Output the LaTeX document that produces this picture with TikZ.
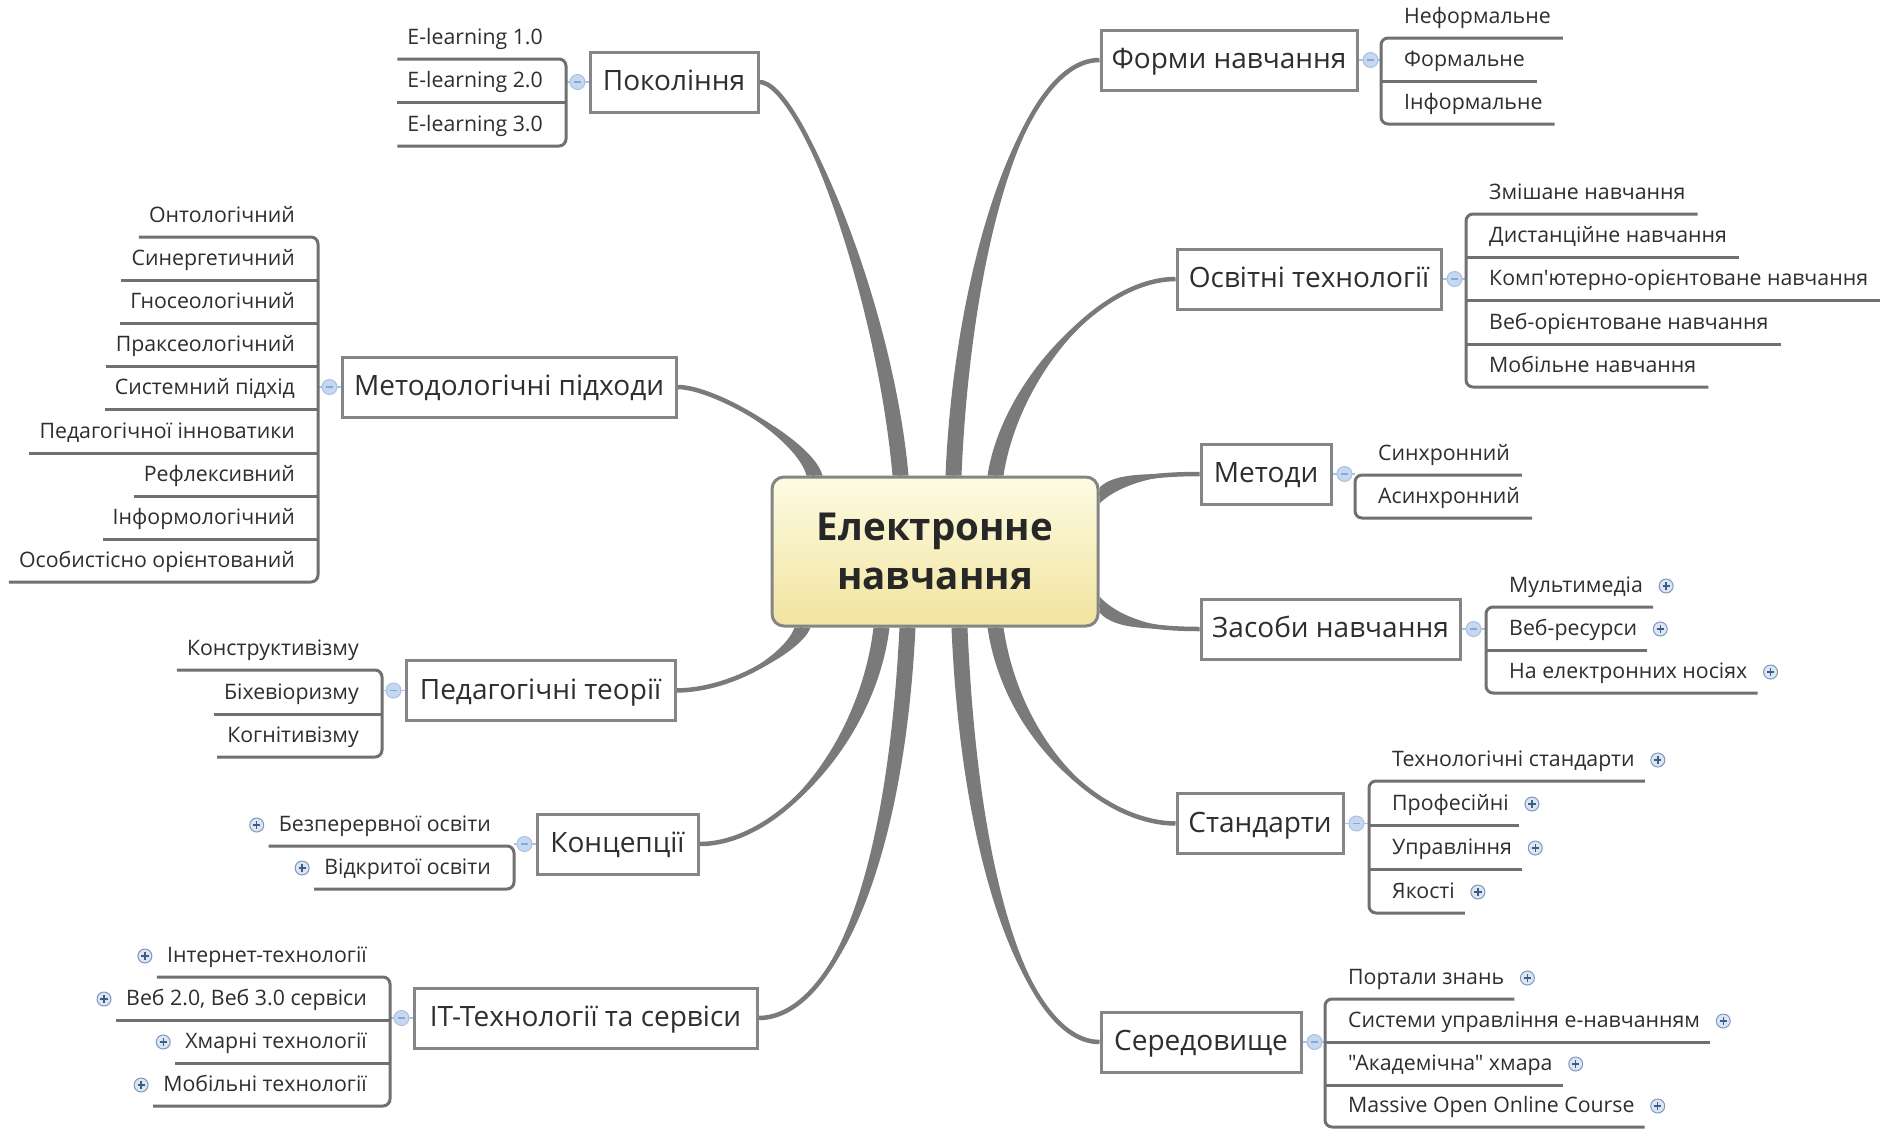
\documentclass[tikz,border=0pt]{standalone}
\usepackage{fontspec}
\usetikzlibrary{calc,backgrounds}
\newfontfamily\leaffont{Open Sans}
\definecolor{txt}{HTML}{2E2E2E}
\definecolor{conn}{HTML}{7A7A7A}
\definecolor{boxline}{HTML}{858585}
\definecolor{ulc}{HTML}{707070}
\definecolor{plusf}{HTML}{DCE6F2}
\definecolor{plusb}{HTML}{7D98BC}
\definecolor{plusm}{HTML}{3E5C88}
\definecolor{minf}{HTML}{C6D8F0}
\definecolor{minb}{HTML}{A9C1E2}
\definecolor{minm}{HTML}{8AA6D2}
\definecolor{ctop}{HTML}{FDFBE3}
\definecolor{cbot}{HTML}{F1E49E}
\tikzset{
 leaf/.style={font=\leaffont\fontsize{21.3pt}{25pt}\selectfont, text=txt, inner sep=0pt},
 branch/.style={draw=boxline, line width=3pt, fill=white, font=\leaffont\fontsize{28pt}{32pt}\selectfont, text=txt, minimum height=60pt, inner sep=0pt, text height=19pt, text depth=2pt},
 centre/.style={draw=boxline, line width=3pt, rounded corners=12pt, top color=ctop, bottom color=cbot, font=\leaffont\bfseries\fontsize{38.5pt}{49pt}\selectfont, text=txt!85!black, align=center, minimum width=326pt, minimum height=149pt, inner sep=0pt},
 ul/.style={draw=ulc, line width=3pt, rounded corners=7pt},
 minline/.style={draw=minb, line width=1.5pt},
}
\newcommand\plusicon[1]{\path #1 coordinate (pp);
 \fill[plusf, draw=plusb, line width=1pt] (pp) circle (7pt);
 \draw[plusm, line width=1.4pt] ($(pp)+(-3.6,0)$) -- ($(pp)+(3.6,0)$) ($(pp)+(0,-3.6)$) -- ($(pp)+(0,3.6)$);}
\newcommand\minusicon[1]{\path #1 coordinate (mm);
 \fill[minf, draw=minb, line width=1pt] (mm) circle (7.5pt);
 \draw[minm, line width=1.3pt] ($(mm)+(-3.5,0)$) -- ($(mm)+(3.5,0)$);}
\newcommand\lleaf[4]{\node[leaf, anchor=mid east] (#1) at (#2,#3+5) {#4};
 \coordinate (#1u) at ($(#1.mid west)+(-10,17)$);}
\newcommand\lleafp[4]{\lleaf{#1}{#2}{#3}{#4}\plusicon{($(#1.mid west)+(-22,-4)$)}}
\newcommand\rleaf[4]{\node[leaf, anchor=mid west] (#1) at (#2,#3+5) {#4};
 \coordinate (#1u) at ($(#1.mid east)+(12,17)$);}
\newcommand\rleafp[4]{\node[leaf, anchor=mid west] (#1) at (#2,#3+5) {#4};
 \coordinate (#1u) at ($(#1.mid east)+(10,17)$);\plusicon{($(#1.mid east)+(23,-4)$)}}
\newcommand\taper[5]{%
 \fill[conn] ($(#1)+#5$) .. controls ($#2+#5$) and #3 .. (#4) .. controls #3 and ($#2-#5$) .. ($(#1)-#5$) -- cycle;
 \draw[conn, line width=4.5pt] (#1) .. controls #2 and #3 .. (#4);}
\begin{document}
\begin{tikzpicture}[x=1pt,y=-1pt]
\useasboundingbox (0,0) rectangle (1883,1128);
% centre and main branches
\node[centre] (c) at (935,551.5) {Електронне\\навчання};
\node[branch, minimum width=168pt] (b1) at (674,82) {Покоління};
\node[branch, minimum width=334pt] (b2) at (509,387) {Методологічні підходи};
\node[branch, minimum width=269pt] (b3) at (540.5,690.5) {Педагогічні теорії};
\node[branch, minimum width=161pt] (b4) at (617.5,844) {Концепції};
\node[branch, minimum width=343pt] (b5) at (585.5,1018) {IT-Технології та сервіси};
\node[branch, minimum width=256pt] (b6) at (1229,60) {Форми навчання};
\node[branch, minimum width=264pt] (b7) at (1309,279) {Освітні технології};
\node[branch, minimum width=130pt] (b8) at (1266,474) {Методи};
\node[branch, minimum width=259pt] (b9) at (1330.5,629) {Засоби навчання};
\node[branch, minimum width=166pt] (b10) at (1260,823.5) {Стандарти};
\node[branch, minimum width=200pt] (b11) at (1201,1042) {Середовище};
% start points on centre
\coordinate (sM) at ($(c.north west)+(44,0)$);
\coordinate (sP) at ($(c.north west)+(130,0)$);
\coordinate (sF) at ($(c.north west)+(183,0)$);
\coordinate (sO) at ($(c.north west)+(225,0)$);
\coordinate (sPe) at ($(c.south west)+(32,0)$);
\coordinate (sK) at ($(c.south west)+(111,0)$);
\coordinate (sI) at ($(c.south west)+(137,0)$);
\coordinate (sS) at ($(c.south west)+(189,0)$);
\coordinate (sSt) at ($(c.south west)+(225,0)$);
\coordinate (sMe) at ($(c.north east)+(0,20)$);
\coordinate (sZ) at ($(c.south east)+(0,-23)$);
\begin{pgfonlayer}{background}
\fill[white] (0,0) rectangle (1883,1128);
\taper{sP}{(885,300)}{(800,82)}{b1.east}{(8,0)}
\taper{sF}{(962,270)}{(1020,60)}{b6.west}{(8,0)}
\taper{sO}{(1010,380)}{(1100,279)}{b7.west}{(8,0)}
\taper{sM}{(805,440)}{(715,387)}{b2.east}{(8,0)}
\taper{sPe}{(795,650)}{(735,690)}{b3.east}{(8,0)}
\taper{sK}{(868,740)}{(780,844)}{b4.east}{(8,0)}
\taper{sI}{(895,880)}{(830,1018)}{b5.east}{(8,0)}
\taper{sS}{(970,880)}{(1030,1042)}{b11.west}{(8,0)}
\taper{sSt}{(1012,740)}{(1100,823)}{b10.west}{(8,0)}
\taper{sMe}{(1115,480)}{(1150,474)}{b8.west}{(0,8)}
\taper{sZ}{(1115,622)}{(1150,629)}{b9.west}{(0,8)}
\end{pgfonlayer}
% vertical bracket positions
\coordinate (V1) at (566,0);
\coordinate (V2) at (318,0);
\coordinate (V3) at (382,0);
\coordinate (V4) at (514,0);
\coordinate (V5) at (390,0);
\coordinate (V6) at (1381,0);
\coordinate (V7) at (1466,0);
\coordinate (V8) at (1355,0);
\coordinate (V9) at (1486,0);
\coordinate (V10) at (1369,0);
\coordinate (V11) at (1325,0);
% links box -> bracket
\draw[minline] (b1.west) -- (b1.west -| V1);
\draw[minline] (b2.west) -- (b2.west -| V2);
\draw[minline] (b3.west) -- (b3.west -| V3);
\draw[minline] (b4.west) -- (b4.west -| V4);
\draw[minline] (b5.west) -- (b5.west -| V5);
\draw[minline] (b6.east) -- (b6.east -| V6);
\draw[minline] (b7.east) -- (b7.east -| V7);
\draw[minline] (b8.east) -- (b8.east -| V8);
\draw[minline] (b9.east) -- (b9.east -| V9);
\draw[minline] (b10.east) -- (b10.east -| V10);
\draw[minline] (b11.east) -- (b11.east -| V11);
% leaves left
\lleaf{p1}{543}{37}{E-learning 1.0}
\lleaf{p2}{543}{80}{E-learning 2.0}
\lleaf{p3}{543}{124}{E-learning 3.0}
\lleaf{m1}{295}{215}{Онтологічний}
\lleaf{m2}{295}{258}{Синергетичний}
\lleaf{m3}{295}{301}{Гносеологічний}
\lleaf{m4}{295}{344}{Праксеологічний}
\lleaf{m5}{295}{387}{Системний підхід}
\lleaf{m6}{295}{431}{Педагогічної інноватики}
\lleaf{m7}{295}{474}{Рефлексивний}
\lleaf{m8}{295}{517}{Інформологічний}
\lleaf{m9}{295}{560}{Особистісно орієнтований}
\lleaf{t1}{359}{648}{Конструктивізму}
\lleaf{t2}{359}{692}{Біхевіоризму}
\lleaf{t3}{359}{735}{Когнітивізму}
\lleafp{k1}{491}{824}{Безперервної освіти}
\lleafp{k2}{491}{867}{Відкритої освіти}
\lleafp{i1}{367}{955}{Інтернет-технології}
\lleafp{i2}{367}{998}{Веб 2.0, Веб 3.0 сервіси}
\lleafp{i3}{367}{1041}{Хмарні технології}
\lleafp{i4}{367}{1084}{Мобільні технології}
% leaves right
\rleaf{f1}{1404}{16}{Неформальне}
\rleaf{f2}{1404}{59}{Формальне}
\rleaf{f3}{1404}{102}{Інформальне}
\rleaf{o1}{1489}{192}{Змішане навчання}
\rleaf{o2}{1489}{235}{Дистанційне навчання}
\rleaf{o3}{1489}{278}{Комп'ютерно-орієнтоване навчання}
\rleaf{o4}{1489}{322}{Веб-орієнтоване навчання}
\rleaf{o5}{1489}{365}{Мобільне навчання}
\rleaf{e1}{1378}{453}{Синхронний}
\rleaf{e2}{1378}{496}{Асинхронний}
\rleafp{z1}{1509}{585}{Мультимедіа}
\rleafp{z2}{1509}{628}{Веб-ресурси}
\rleafp{z3}{1509}{671}{На електронних носіях}
\rleafp{s1}{1392}{759}{Технологічні стандарти}
\rleafp{s2}{1392}{803}{Професійні}
\rleafp{s3}{1392}{847}{Управління}
\rleafp{s4}{1392}{891}{Якості}
\rleafp{r1}{1348}{977}{Портали знань}
\rleafp{r2}{1348}{1020}{Системи управління е-навчанням}
\rleafp{r3}{1348}{1063}{"Академічна" хмара}
\rleafp{r4}{1348}{1105}{Massive Open Online Course}
% brackets left
\draw[ul] (p1u) -| (V1 |- p3u) -- (p3u);
\draw[ul] (p2u) -- (V1 |- p2u);
\draw[ul] (m1u) -| (V2 |- m9u) -- (m9u);
\draw[ul] (m2u) -- (V2 |- m2u);
\draw[ul] (m3u) -- (V2 |- m3u);
\draw[ul] (m4u) -- (V2 |- m4u);
\draw[ul] (m5u) -- (V2 |- m5u);
\draw[ul] (m6u) -- (V2 |- m6u);
\draw[ul] (m7u) -- (V2 |- m7u);
\draw[ul] (m8u) -- (V2 |- m8u);
\draw[ul] (t1u) -| (V3 |- t3u) -- (t3u);
\draw[ul] (t2u) -- (V3 |- t2u);
\draw[ul] (k1u) -| (V4 |- k2u) -- (k2u);
\draw[ul] (i1u) -| (V5 |- i4u) -- (i4u);
\draw[ul] (i2u) -- (V5 |- i2u);
\draw[ul] (i3u) -- (V5 |- i3u);
% brackets right
\draw[ul] (f1u) -| (V6 |- f3u) -- (f3u);
\draw[ul] (f2u) -- (V6 |- f2u);
\draw[ul] (o1u) -| (V7 |- o5u) -- (o5u);
\draw[ul] (o2u) -- (V7 |- o2u);
\draw[ul] (o3u) -- (V7 |- o3u);
\draw[ul] (o4u) -- (V7 |- o4u);
\draw[ul] (e1u) -| (V8 |- e2u) -- (e2u);
\draw[ul] (z1u) -| (V9 |- z3u) -- (z3u);
\draw[ul] (z2u) -- (V9 |- z2u);
\draw[ul] (s1u) -| (V10 |- s4u) -- (s4u);
\draw[ul] (s2u) -- (V10 |- s2u);
\draw[ul] (s3u) -- (V10 |- s3u);
\draw[ul] (r1u) -| (V11 |- r4u) -- (r4u);
\draw[ul] (r2u) -- (V11 |- r2u);
\draw[ul] (r3u) -- (V11 |- r3u);
% collapse icons
\minusicon{($(b1.west)+(-11,0)$)}
\minusicon{($(b2.west)+(-11,0)$)}
\minusicon{($(b3.west)+(-11,0)$)}
\minusicon{($(b4.west)+(-11,0)$)}
\minusicon{($(b5.west)+(-11,0)$)}
\minusicon{($(b6.east)+(12,0)$)}
\minusicon{($(b7.east)+(12,0)$)}
\minusicon{($(b8.east)+(12,0)$)}
\minusicon{($(b9.east)+(12,0)$)}
\minusicon{($(b10.east)+(12,0)$)}
\minusicon{($(b11.east)+(12,0)$)}
\end{tikzpicture}
\end{document}
